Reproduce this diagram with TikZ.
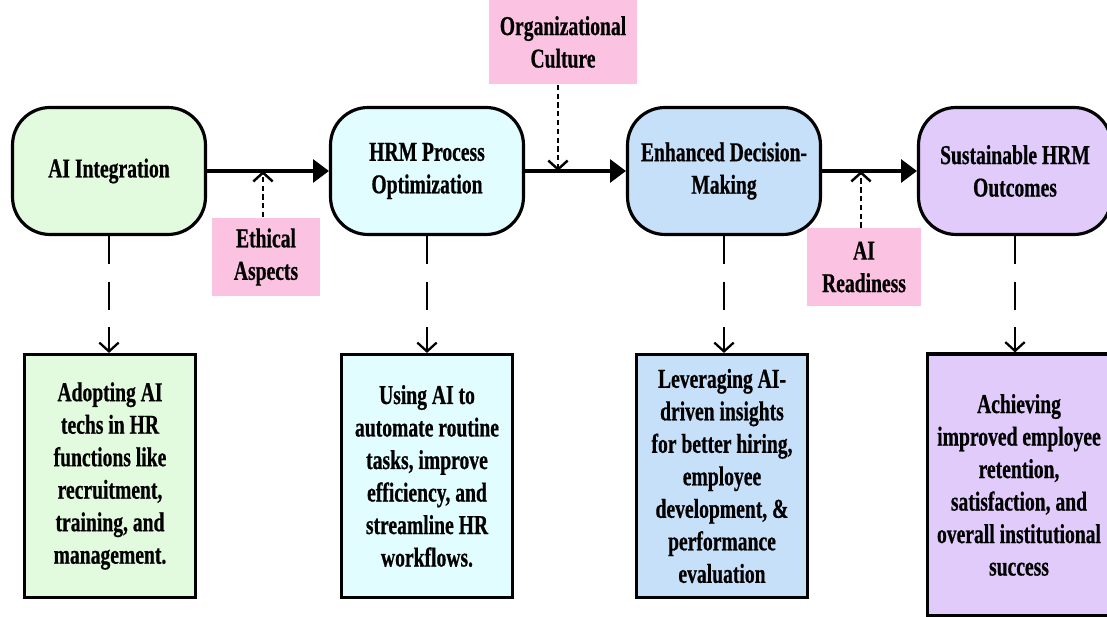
\documentclass[tikz,border=0pt]{standalone}
\usepackage{fontspec}
\setmainfont{Liberation Serif}[FakeStretch=0.72, BoldFeatures={FakeBold=0.6}]
\usetikzlibrary{arrows.meta}
\definecolor{stagegreen}{RGB}{226,250,222}
\definecolor{stagecyan}{RGB}{225,253,255}
\definecolor{stageblue}{RGB}{198,224,250}
\definecolor{stagepurple}{RGB}{224,203,251}
\definecolor{factorpink}{RGB}{252,194,226}
\begin{document}
\begin{tikzpicture}[x=0.02cm, y=-0.02cm,
    txt/.style={font=\fontsize{15.5}{18.5}\selectfont\bfseries, align=center},
    stage/.style={txt, draw, line width=1.8pt, rounded corners=0.75cm,
        minimum width=3.86cm, minimum height=2.54cm},
    detail/.style={txt, draw, line width=1.8pt, minimum width=3.42cm, minimum height=4.86cm},
    factor/.style={txt, fill=factorpink, inner sep=0pt},
    flow/.style={line width=1.8pt, -{Triangle[length=9pt, width=13pt]}},
    effect/.style={line width=1.4pt, dash pattern=on 3pt off 2pt, -{Straight Barb[length=5pt, width=11pt]}},
    link/.style={line width=1.3pt, dash pattern=on 16pt off 10pt, -{Straight Barb[length=5pt, width=11pt]}}]
    \useasboundingbox (0,0) rectangle (1107,617);
    % main stages
    \node[stage, fill=stagegreen] (ai) at (109,171) {AI Integration};
    \node[stage, fill=stagecyan] (hrm) at (427,171) {HRM Process\\Optimization};
    \node[stage, fill=stageblue] (dec) at (724,171) {Enhanced Decision-\\Making};
    \node[stage, fill=stagepurple] (out) at (1015,171) {Sustainable HRM\\Outcomes};
    % descriptions
    \node[detail, fill=stagegreen] (aid) at (110,476) {Adopting AI\\techs in HR\\functions like\\recruitment,\\training, and\\management.};
    \node[detail, fill=stagecyan] (hrmd) at (427,476) {Using AI to\\automate routine\\tasks, improve\\efficiency, and\\streamline HR\\workflows.};
    \node[detail, fill=stageblue] (decd) at (722,476) {Leveraging AI-\\driven insights\\for better hiring,\\employee\\development, \&\\performance\\evaluation};
    \node[detail, fill=stagepurple, minimum width=3.66cm, minimum height=5.24cm] (outd) at (1019,485) {Achieving\\improved employee\\retention,\\satisfaction, and\\overall institutional\\success};
    % influencing factors
    \node[factor, minimum width=2.16cm, minimum height=1.58cm] (eth) at (266,257) {Ethical\\Aspects};
    \node[factor, minimum width=2.98cm, minimum height=1.7cm] (cult) at (563,42) {Organizational\\Culture};
    \node[factor, minimum width=2.3cm, minimum height=1.56cm] (ready) at (864,267) {AI\\Readiness};
    \coordinate (m1) at (263,171);
    \coordinate (m2) at (558,171);
    \coordinate (m3) at (861,171);
    \draw[flow] (ai) -- (hrm);
    \draw[flow] (hrm) -- (dec);
    \draw[flow] (dec) -- (out);
    \draw[effect] (m1 |- eth.north) -- (m1);
    \draw[effect] (m2 |- cult.south) -- (m2);
    \draw[effect] (m3 |- ready.north) -- (m3);
    \draw[link] (ai.south) -- (ai.south |- aid.north);
    \draw[link] (hrm.south) -- (hrm.south |- hrmd.north);
    \draw[link] (dec.south) -- (dec.south |- decd.north);
    \draw[link] (out.south) -- (out.south |- outd.north);
\end{tikzpicture}
\end{document}
